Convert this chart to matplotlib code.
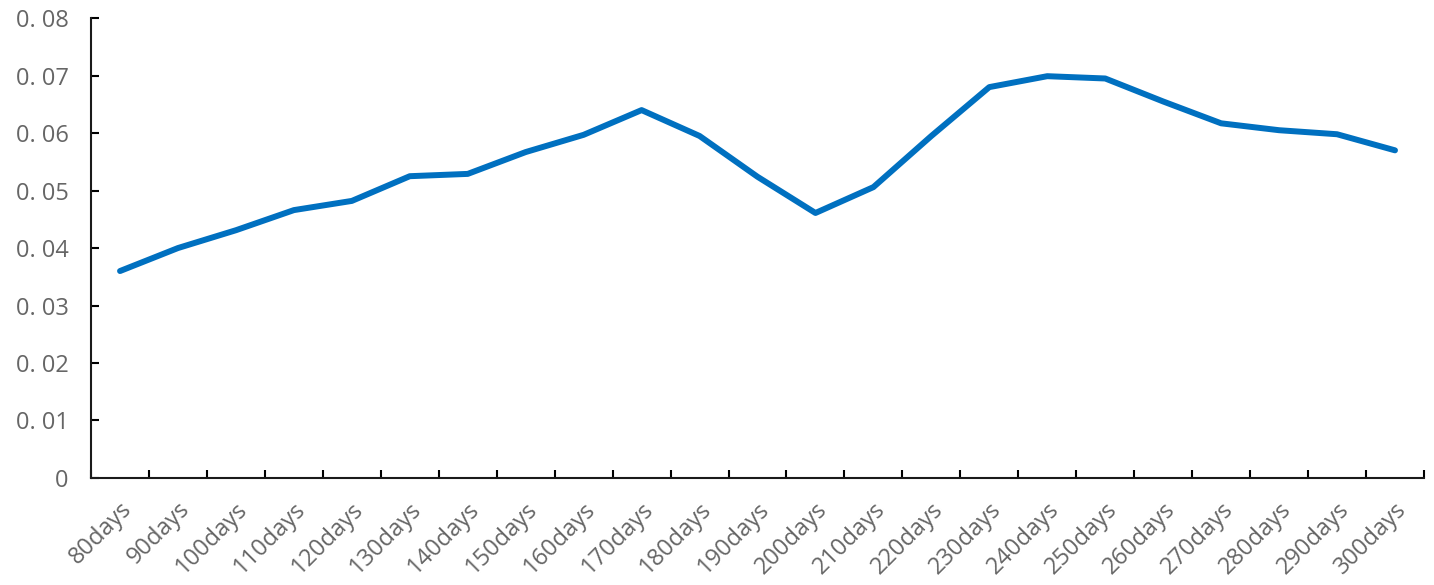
import numpy as np
import matplotlib.pyplot as plt
from matplotlib.ticker import FixedLocator, NullFormatter

# categories and values
days = ["80days", "90days", "100days", "110days", "120days", "130days", "140days",
        "150days", "160days", "170days", "180days", "190days", "200days", "210days",
        "220days", "230days", "240days", "250days", "260days", "270days", "280days",
        "290days", "300days"]
values = [0.0360, 0.0400, 0.0431, 0.0466, 0.0482, 0.0525, 0.0529,
          0.0567, 0.0597, 0.0640, 0.0595, 0.0524, 0.0461, 0.0506,
          0.0595, 0.0680, 0.0699, 0.0695, 0.0655, 0.0617, 0.0605,
          0.0598, 0.0570]
yticks = [0, 0.01, 0.02, 0.03, 0.04, 0.05, 0.06, 0.07, 0.08]
ytick_labels = ["0", "0. 01", "0. 02", "0. 03", "0. 04", "0. 05", "0. 06", "0. 07", "0. 08"]

plt.rcParams['font.family'] = ['Open Sans', 'DejaVu Sans']

fig = plt.figure(figsize=(14.34, 5.85), dpi=100)
ax = fig.add_axes([0.0635, 0.183, 0.9295, 0.786])

x = np.arange(len(days))
ax.plot(x, values, color="#0070C0", linewidth=4.3, solid_joinstyle="round",
        solid_capstyle="round")

ax.set_xlim(-0.5, len(days) - 0.5)
ax.set_ylim(0, 0.08)

# y axis
ax.set_yticks(yticks)
ax.set_yticklabels(ytick_labels)
ax.tick_params(axis="y", direction="in", length=6, width=1.5, labelsize=17,
               labelcolor="#666666", pad=16)

# x axis: ticks at category boundaries, labels at centers
ax.xaxis.set_major_locator(FixedLocator(np.arange(-0.5, len(days), 1.0)))
ax.xaxis.set_major_formatter(NullFormatter())
ax.xaxis.set_minor_locator(FixedLocator(x))
ax.set_xticklabels(days, minor=True, rotation=45, ha="right", rotation_mode="anchor")
ax.tick_params(axis="x", which="major", direction="in", length=6, width=1.5)
ax.tick_params(axis="x", which="minor", length=0, labelsize=17,
               labelcolor="#666666", pad=14)

for side in ["top", "right"]:
    ax.spines[side].set_visible(False)
for side in ["left", "bottom"]:
    ax.spines[side].set_linewidth(1.5)
    ax.spines[side].set_color("#1a1a1a")

fig.savefig("out.png", dpi=100)
